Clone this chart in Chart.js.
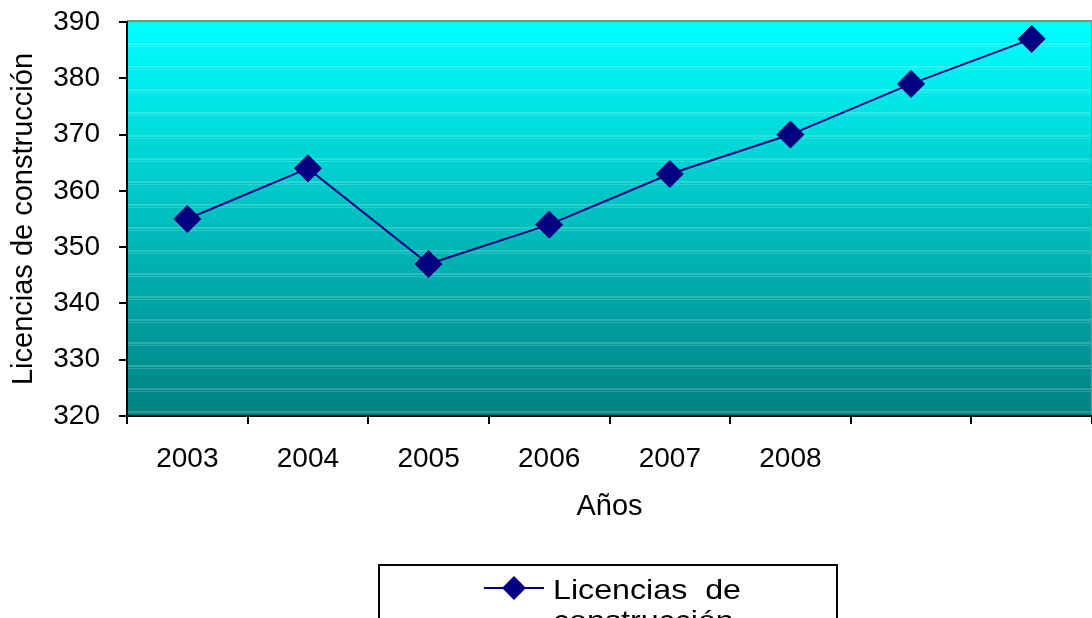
<!DOCTYPE html>
<html>
<head>
<meta charset="utf-8">
<title>Licencias de construcción</title>
<script src="https://cdn.jsdelivr.net/npm/chart.js@4/dist/chart.umd.min.js"></script>
<style>
  html, body { margin: 0; padding: 0; background: #fff; overflow: hidden; }
  #wrap { width: 1092px; height: 618px; position: relative; }
</style>
</head>
<body>
<div id="wrap"><canvas id="c" width="1092" height="618"></canvas></div>
<script>
// Years on the category axis (the last two categories carry no label)
const years = ['2003', '2004', '2005', '2006', '2007', '2008', '', ''];
// Building licences per year
const licencias = [355, 364, 347, 354, 363, 370, 379, 387];
// Value axis range
const yMin = 320;
const yMax = 390;
const yStep = 10;

const seriesLabel = 'Licencias  de construcción';
const FONT = "'Liberation Sans', Arial, Helvetica, sans-serif";
const NAVY = '#000080';

// Gradient plot background with faint horizontal banding
const plotBackground = {
  id: 'plotBackground',
  beforeDraw(chart) {
    const { ctx, chartArea: a } = chart;
    ctx.save();
    ctx.fillStyle = '#ffffff';
    ctx.fillRect(0, 0, chart.width, chart.height);
    const g = ctx.createLinearGradient(0, a.top, 0, a.bottom);
    g.addColorStop(0, '#00ffff');
    g.addColorStop(1, '#008080');
    ctx.fillStyle = g;
    ctx.fillRect(a.left, a.top, a.right - a.left, a.bottom - a.top);
    // banding lines
    ctx.fillStyle = 'rgba(255,255,255,0.18)';
    for (let y = Math.ceil(a.top) + 2; y < a.bottom - 2; y++) {
      const k = (y * 29) % 23;
      if (k === 0 || k === 5 || k === 11) {
        ctx.fillRect(a.left, y, a.right - a.left, 1);
      }
    }
    // grey frame on the top and right edges
    ctx.fillStyle = '#8c8c8c';
    ctx.fillRect(a.left, a.top - 2, a.right - a.left, 2);
    ctx.fillRect(a.right - 1, a.top - 2, 1, a.bottom - a.top + 2);
    ctx.restore();
  }
};

// Boxed legend below the chart
const boxedLegend = {
  id: 'boxedLegend',
  afterDraw(chart) {
    const { ctx } = chart;
    const ds = chart.data.datasets[0];
    const box = { x: 379, y: 565, w: 458, h: 80 };
    ctx.save();
    ctx.strokeStyle = '#000';
    ctx.lineWidth = 2;
    ctx.strokeRect(box.x, box.y, box.w, box.h);

    const cy = 588;
    const sx = 484, ex = 544, mx = (sx + ex) / 2;
    ctx.strokeStyle = ds.borderColor;
    ctx.lineWidth = ds.borderWidth;
    ctx.beginPath();
    ctx.moveTo(sx, cy);
    ctx.lineTo(ex, cy);
    ctx.stroke();
    const r = 12;
    ctx.fillStyle = ds.pointBackgroundColor;
    ctx.beginPath();
    ctx.moveTo(mx - r, cy);
    ctx.lineTo(mx, cy - r);
    ctx.lineTo(mx + r, cy);
    ctx.lineTo(mx, cy + r);
    ctx.closePath();
    ctx.fill();

    const cut = ds.label.lastIndexOf(' ');
    const lines = [ds.label.slice(0, cut), ds.label.slice(cut + 1)];
    ctx.fillStyle = '#000';
    ctx.font = '28px ' + FONT;
    ctx.textBaseline = 'alphabetic';
    ctx.textAlign = 'left';
    lines.forEach((t, i) => {
      ctx.save();
      ctx.translate(553, 599 + i * 31);
      ctx.scale(1.15, 1);
      ctx.fillText(t, 0, 0);
      ctx.restore();
    });
    ctx.restore();
  }
};

new Chart(document.getElementById('c'), {
  type: 'line',
  data: {
    labels: years,
    datasets: [{
      label: seriesLabel,
      data: licencias,
      borderColor: NAVY,
      borderWidth: 2,
      backgroundColor: NAVY,
      pointStyle: 'rectRot',
      pointRadius: 13.5,
      pointHoverRadius: 13.5,
      pointBackgroundColor: NAVY,
      pointBorderColor: NAVY,
      pointBorderWidth: 1,
      tension: 0,
      fill: false,
      clip: false
    }]
  },
  options: {
    responsive: false,
    animation: false,
    events: [],
    layout: { autoPadding: false, padding: { left: 0, right: 0, top: 22, bottom: 0 } },
    plugins: {
      legend: { display: false },
      tooltip: { enabled: false },
      title: { display: false }
    },
    scales: {
      x: {
        type: 'category',
        offset: true,
        grid: {
          offset: true,
          drawOnChartArea: false,
          drawTicks: true,
          tickLength: 8,
          color: '#000',
          lineWidth: 2
        },
        border: { display: true, color: '#000', width: 2 },
        ticks: {
          color: '#000',
          font: { family: FONT, size: 28 },
          padding: 18,
          maxRotation: 0,
          autoSkip: false
        },
        title: {
          display: true,
          text: 'Años',
          color: '#000',
          font: { family: FONT, size: 29 },
          padding: { top: 0, bottom: 94 }
        },
        afterFit(scale) {
          scale.height = 202;
          scale.paddingLeft = 0;
          scale.paddingRight = 0;
        }
      },
      y: {
        min: yMin,
        max: yMax,
        grid: {
          drawOnChartArea: false,
          drawTicks: true,
          tickLength: 8,
          color: '#000',
          lineWidth: 2
        },
        border: { display: true, color: '#000', width: 2 },
        ticks: {
          stepSize: yStep,
          color: '#000',
          font: { family: FONT, size: 28 },
          padding: 19
        },
        title: {
          display: true,
          text: 'Licencias de construcción',
          color: '#000',
          font: { family: FONT, size: 29 },
          padding: { top: 7, bottom: 0 }
        },
        afterFit(scale) {
          scale.width = 127;
          scale.paddingTop = 0;
          scale.paddingBottom = 0;
        }
      }
    }
  },
  plugins: [plotBackground, boxedLegend]
});
</script>
</body>
</html>
